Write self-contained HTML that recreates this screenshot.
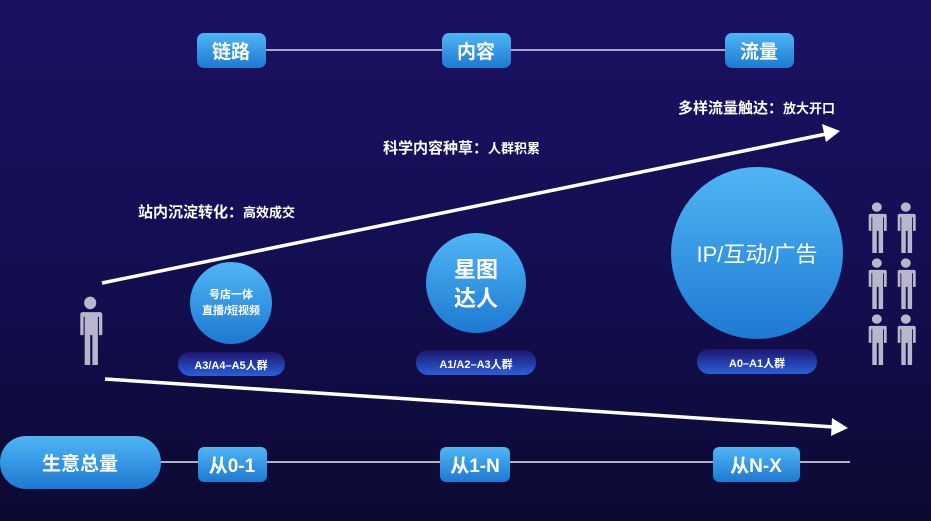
<!DOCTYPE html>
<html><head><meta charset="utf-8"><style>
html,body{margin:0;padding:0;width:931px;height:521px;overflow:hidden;background:linear-gradient(#1b1163,#140e52 50%,#0c0a33);}
svg{display:block}
text{font-family:"Liberation Sans","Noto Sans CJK SC",sans-serif;fill:#fff;font-weight:bold}
</style></head><body>
<svg width="931" height="521" viewBox="0 0 931 521">
<defs>
<linearGradient id="bl" x1="0" y1="0" x2="0" y2="1"><stop offset="0" stop-color="#4fb6f5"/><stop offset="1" stop-color="#1d79d2"/></linearGradient>
<linearGradient id="pl" x1="0" y1="0" x2="0" y2="1"><stop offset="0" stop-color="#1d1670"/><stop offset="1" stop-color="#2a5fd8"/></linearGradient>
<g id="p"><circle cx="12" cy="6" r="5.5" fill="#b8b6cc"/><path d="M3 14 h18 a2 2 0 0 1 2 2 v18 h-3 v-16 h-1 v42 h-5 v-26 h-2 v26 h-5 v-42 h-1 v16 h-3 v-18 a2 2 0 0 1 2-2z" fill="#b8b6cc"/></g>
</defs>
<line x1="265" y1="50" x2="725" y2="50" stroke="#d8d8f0" stroke-width="1.5"/>
<rect x="197" y="33" width="69" height="35" rx="7" fill="url(#bl)"/><text x="231" y="58" font-size="19" text-anchor="middle">链路</text>
<rect x="442" y="33" width="69" height="35" rx="7" fill="url(#bl)"/><text x="476" y="58" font-size="19" text-anchor="middle">内容</text>
<rect x="725" y="33" width="69" height="35" rx="7" fill="url(#bl)"/><text x="759" y="58" font-size="19" text-anchor="middle">流量</text>
<text x="678" y="113" font-size="15">多样流量触达：<tspan font-size="13">放大开口</tspan></text>
<text x="383" y="153" font-size="15">科学内容种草：<tspan font-size="13">人群积累</tspan></text>
<text x="138" y="217" font-size="15">站内沉淀转化：<tspan font-size="13">高效成交</tspan></text>
<line x1="102" y1="283" x2="826" y2="134" stroke="#fff" stroke-width="3.5"/>
<polygon points="840,131 822,124 826,142" fill="#fff"/>
<line x1="105" y1="379" x2="834" y2="427" stroke="#fff" stroke-width="3.5"/>
<polygon points="848,428 832,418 831,436" fill="#fff"/>
<use href="#p" transform="translate(77,296) scale(1.1,1.15)"/>
<circle cx="231" cy="303" r="41" fill="url(#bl)"/>
<text x="231" y="298" font-size="11" text-anchor="middle">号店一体</text>
<text x="231" y="314" font-size="11" text-anchor="middle">直播/短视频</text>
<rect x="178" y="352" width="107" height="24" rx="12" fill="url(#pl)"/><text x="231" y="369" font-size="11" text-anchor="middle">A3/A4–A5人群</text>
<circle cx="476" cy="283" r="50" fill="url(#bl)"/>
<text x="476" y="277" font-size="22" text-anchor="middle">星图</text>
<text x="476" y="306" font-size="22" text-anchor="middle">达人</text>
<rect x="416" y="350" width="120" height="25" rx="12" fill="url(#pl)"/><text x="476" y="368" font-size="11" text-anchor="middle">A1/A2–A3人群</text>
<circle cx="757" cy="253" r="86" fill="url(#bl)"/>
<text x="757" y="262" font-size="22" text-anchor="middle" style="font-weight:normal">IP/互动/广告</text>
<rect x="697" y="349" width="120" height="25" rx="12" fill="url(#pl)"/><text x="757" y="367" font-size="11" text-anchor="middle">A0–A1人群</text>
<use href="#p" transform="translate(866,202) scale(0.9,0.85)"/><use href="#p" transform="translate(895,202) scale(0.9,0.85)"/>
<use href="#p" transform="translate(866,258) scale(0.9,0.85)"/><use href="#p" transform="translate(895,258) scale(0.9,0.85)"/>
<use href="#p" transform="translate(866,314) scale(0.9,0.85)"/><use href="#p" transform="translate(895,314) scale(0.9,0.85)"/>
<line x1="160" y1="462" x2="850" y2="462" stroke="#e8e8f8" stroke-width="1.5"/>
<rect x="0" y="436" width="161" height="53" rx="26" fill="url(#bl)"/><text x="80" y="470" font-size="19" text-anchor="middle">生意总量</text>
<rect x="198" y="447" width="69" height="35" rx="6" fill="url(#bl)"/><text x="232" y="472" font-size="19" text-anchor="middle">从0-1</text>
<rect x="440" y="447" width="70" height="35" rx="6" fill="url(#bl)"/><text x="475" y="472" font-size="19" text-anchor="middle">从1-N</text>
<rect x="713" y="447" width="87" height="35" rx="6" fill="url(#bl)"/><text x="756" y="472" font-size="19" text-anchor="middle">从N-X</text>
</svg>
</body></html>
